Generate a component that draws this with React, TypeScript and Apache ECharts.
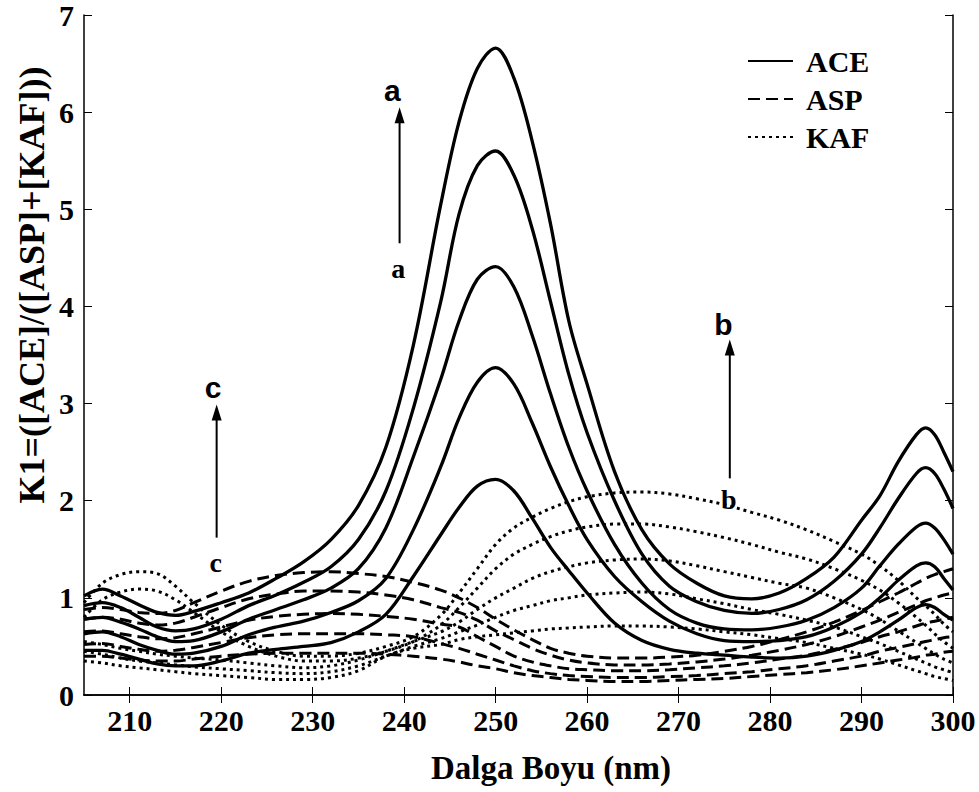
import React, { useEffect, useRef } from "react";
import * as echarts from "echarts";

// Wavelength grid (nm)
const wavelengths = [205, 207, 209, 211, 213, 215, 217, 220, 223, 226, 229, 232, 235, 238, 241, 244, 246, 248, 250, 252, 254, 256, 258, 260, 263, 266, 269, 272, 275, 278, 281, 284, 287, 290, 292, 294, 296, 297, 298, 299, 300];
const xTicks = [210, 220, 230, 240, 250, 260, 270, 280, 290, 300];

// ACE ratio spectra (solid)
const ace1 = [1.02, 1.09, 1.02, 0.93, 0.85, 0.82, 0.86, 0.95, 1.05, 1.2, 1.37, 1.6, 1.95, 2.55, 3.6, 5.05, 5.9, 6.45, 6.66, 6.35, 5.7, 4.85, 3.85, 3.2, 2.3, 1.7, 1.35, 1.15, 1.02, 0.99, 1.05, 1.2, 1.42, 1.8, 2.05, 2.4, 2.68, 2.75, 2.68, 2.5, 2.3];
const ace2 = [0.92, 0.95, 0.9, 0.8, 0.7, 0.66, 0.68, 0.78, 0.92, 1.03, 1.16, 1.32, 1.6, 2.1, 2.95, 4.05, 4.95, 5.45, 5.6, 5.35, 4.8, 4.05, 3.3, 2.7, 2.0, 1.45, 1.12, 0.96, 0.87, 0.84, 0.88, 0.98, 1.17, 1.45, 1.72, 2.02, 2.28, 2.34, 2.28, 2.12, 1.92];
const ace3 = [0.78, 0.8, 0.75, 0.68, 0.6, 0.55, 0.56, 0.65, 0.78, 0.88, 0.98, 1.1, 1.3, 1.72, 2.45, 3.25, 3.85, 4.28, 4.41, 4.2, 3.7, 3.1, 2.55, 2.1, 1.55, 1.15, 0.88, 0.74, 0.68, 0.67, 0.7, 0.77, 0.9, 1.1, 1.33, 1.55, 1.73, 1.77, 1.72, 1.6, 1.45];
const ace4 = [0.63, 0.65, 0.6, 0.52, 0.46, 0.42, 0.43, 0.5, 0.62, 0.7, 0.76, 0.85, 0.97, 1.2, 1.7, 2.35, 2.85, 3.22, 3.37, 3.2, 2.8, 2.35, 1.95, 1.6, 1.22, 0.96, 0.76, 0.63, 0.56, 0.55, 0.56, 0.6, 0.7, 0.85, 1.0, 1.18, 1.33, 1.36, 1.32, 1.2, 1.08];
const ace5 = [0.46, 0.46, 0.42, 0.37, 0.32, 0.3, 0.3, 0.35, 0.43, 0.47, 0.5, 0.54, 0.65, 0.83, 1.22, 1.65, 1.93, 2.15, 2.22, 2.1, 1.82, 1.52, 1.28, 1.05, 0.74, 0.56, 0.47, 0.43, 0.41, 0.39, 0.38, 0.4, 0.46, 0.55, 0.65, 0.77, 0.9, 0.93, 0.9, 0.83, 0.77];

// ASP ratio spectra (dashed)
const asp1 = [0.88, 0.9, 0.88, 0.85, 0.84, 0.87, 0.95, 1.07, 1.17, 1.23, 1.26, 1.27, 1.25, 1.22, 1.16, 1.08, 1.0, 0.9, 0.78, 0.67, 0.57, 0.48, 0.43, 0.4, 0.38, 0.38, 0.39, 0.41, 0.45, 0.5, 0.57, 0.65, 0.75, 0.87, 0.96, 1.05, 1.15, 1.2, 1.24, 1.27, 1.3];
const asp2 = [0.78, 0.8, 0.78, 0.74, 0.72, 0.74, 0.8, 0.9, 0.99, 1.04, 1.07, 1.07, 1.06, 1.03, 0.98, 0.9, 0.85, 0.77, 0.66, 0.57, 0.48, 0.41, 0.36, 0.33, 0.31, 0.31, 0.32, 0.34, 0.37, 0.41, 0.46, 0.52, 0.6, 0.7, 0.77, 0.85, 0.93, 0.97, 1.0, 1.03, 1.05];
const asp3 = [0.65, 0.66, 0.63, 0.6, 0.58, 0.59, 0.63, 0.7, 0.77, 0.81, 0.83, 0.84, 0.83, 0.81, 0.78, 0.73, 0.7, 0.6, 0.5, 0.4, 0.34, 0.3, 0.27, 0.26, 0.25, 0.25, 0.26, 0.28, 0.3, 0.33, 0.37, 0.41, 0.47, 0.54, 0.6, 0.65, 0.71, 0.74, 0.76, 0.78, 0.8];
const asp4 = [0.52, 0.53, 0.5, 0.47, 0.45, 0.46, 0.49, 0.54, 0.59, 0.62, 0.63, 0.63, 0.63, 0.62, 0.6, 0.53, 0.48, 0.42, 0.36, 0.3, 0.25, 0.22, 0.2, 0.19, 0.18, 0.18, 0.19, 0.2, 0.22, 0.24, 0.27, 0.3, 0.35, 0.4, 0.45, 0.49, 0.53, 0.55, 0.57, 0.59, 0.6];
const asp5 = [0.4, 0.4, 0.38, 0.36, 0.35, 0.35, 0.37, 0.4, 0.42, 0.43, 0.43, 0.43, 0.43, 0.42, 0.4, 0.37, 0.34, 0.3, 0.27, 0.23, 0.2, 0.18, 0.16, 0.15, 0.14, 0.14, 0.15, 0.16, 0.17, 0.19, 0.21, 0.23, 0.26, 0.3, 0.33, 0.36, 0.39, 0.41, 0.42, 0.44, 0.45];

// KAF ratio spectra (dotted)
const kaf1 = [0.95, 1.15, 1.24, 1.27, 1.25, 1.12, 0.95, 0.72, 0.55, 0.45, 0.4, 0.4, 0.43, 0.5, 0.6, 0.82, 1.05, 1.3, 1.55, 1.72, 1.83, 1.92, 1.99, 2.04, 2.08, 2.09, 2.07, 2.02, 1.96, 1.88, 1.8, 1.7, 1.58, 1.45, 1.33, 1.18, 1.0, 0.92, 0.83, 0.73, 0.65];
const kaf2 = [0.8, 0.98, 1.06, 1.09, 1.07, 0.98, 0.85, 0.65, 0.5, 0.4, 0.35, 0.35, 0.38, 0.45, 0.55, 0.72, 0.9, 1.1, 1.3, 1.45, 1.55, 1.63, 1.69, 1.73, 1.76, 1.76, 1.73, 1.68, 1.62, 1.55, 1.47, 1.4, 1.3, 1.18, 1.08, 0.95, 0.8, 0.72, 0.63, 0.55, 0.48];
const kaf3 = [0.55, 0.52, 0.48, 0.45, 0.42, 0.4, 0.38, 0.36, 0.33, 0.3, 0.28, 0.3, 0.36, 0.45, 0.55, 0.65, 0.75, 0.88, 1.0, 1.1, 1.2, 1.27, 1.32, 1.36, 1.39, 1.4, 1.38, 1.33, 1.27, 1.21, 1.15, 1.1, 1.0, 0.88, 0.78, 0.66, 0.54, 0.48, 0.42, 0.37, 0.33];
const kaf4 = [0.45, 0.42, 0.38, 0.35, 0.33, 0.31, 0.29, 0.27, 0.25, 0.23, 0.22, 0.24, 0.3, 0.4, 0.5, 0.58, 0.65, 0.72, 0.8, 0.87, 0.92, 0.97, 1.0, 1.03, 1.05, 1.06, 1.04, 0.99, 0.94, 0.88, 0.83, 0.77, 0.7, 0.6, 0.53, 0.45, 0.37, 0.33, 0.29, 0.26, 0.23];
const kaf5 = [0.35, 0.33, 0.3, 0.28, 0.26, 0.24, 0.22, 0.2, 0.18, 0.16, 0.16, 0.18, 0.25, 0.4, 0.48, 0.52, 0.57, 0.6, 0.62, 0.64, 0.66, 0.68, 0.69, 0.7, 0.71, 0.71, 0.7, 0.68, 0.65, 0.62, 0.58, 0.54, 0.48, 0.42, 0.37, 0.31, 0.25, 0.22, 0.19, 0.17, 0.15];

const aceSet = [ace1, ace2, ace3, ace4, ace5];
const aspSet = [asp1, asp2, asp3, asp4, asp5];
const kafSet = [kaf1, kaf2, kaf3, kaf4, kaf5];

// Annotations (data coordinates)
const arrowX = [239.5, 219.5, 275.6];
const arrowTail = [4.65, 1.62, 2.23];
const arrowHead = [6.05, 2.99, 3.66];
const headLabels = ["a", "c", "b"];
const headLabelX = [238.7, 219.1, 274.9];
const headLabelY = [6.22, 3.17, 3.81];
const tailLabels = ["a", "c", "b"];
const tailLabelX = [239.35, 219.4, 275.5];
const tailLabelY = [4.39, 1.36, 2.01];

const xTitle = "Dalga Boyu (nm)";
const yTitle = "K1=([ACE]/([ASP]+[KAF]))";

const SERIF = "'Liberation Serif', 'Times New Roman', serif";
const SANS = "'Liberation Sans', Arial, sans-serif";

function toPairs(vals: number[]) {
  return wavelengths.map((w, i) => [w, vals[i]]);
}

export default function App() {
  const ref = useRef<HTMLDivElement>(null);
  useEffect(() => {
    if (!ref.current) return;
    const chart = echarts.init(ref.current, undefined, { renderer: "svg" });

    const mk = (name: string, vals: number[], type: any, width: number) => ({
      type: "line",
      name,
      data: toPairs(vals),
      symbol: "none",
      showSymbol: false,
      smooth: 0.35,
      silent: true,
      lineStyle: { color: "#000", width, type, cap: "butt" },
      itemStyle: { color: "#000" },
    });

    const series: any[] = [];
    aceSet.forEach((v) => series.push(mk("ACE", v, "solid", 3.3)));
    aspSet.forEach((v) => series.push(mk("ASP", v, [12, 6], 3)));
    kafSet.forEach((v) => series.push(mk("KAF", v, [3, 4], 3)));

    const axisLineStyle = { color: "#000", width: 1.5 };

    chart.setOption({
      animation: false,
      backgroundColor: "#fff",
      grid: { left: 84, right: 26, top: 10, bottom: 97, containLabel: false },
      legend: {
        data: ["ACE", "ASP", "KAF"],
        orient: "vertical",
        left: 742,
        top: 41,
        itemWidth: 45,
        itemHeight: 14,
        itemGap: 8,
        selectedMode: false,
        itemStyle: { opacity: 0 },
        textStyle: {
          fontFamily: SERIF,
          fontWeight: "bold",
          fontSize: 30,
          color: "#000",
          padding: [0, 0, 0, 8],
        },
      },
      xAxis: [
        {
          type: "value",
          min: 205,
          max: 300,
          position: "bottom",
          axisLine: { show: true, lineStyle: axisLineStyle },
          axisTick: { show: true, inside: true, length: 8, customValues: xTicks, lineStyle: { color: "#000" } },
          axisLabel: {
            customValues: xTicks,
            fontFamily: SERIF,
            fontWeight: "bold",
            fontSize: 30,
            color: "#000",
            margin: 10,
          },
          splitLine: { show: false },
        },
        {
          type: "value",
          min: 205,
          max: 300,
          position: "top",
          axisLine: { show: true, lineStyle: axisLineStyle },
          axisTick: { show: true, inside: true, length: 8, customValues: xTicks, lineStyle: { color: "#000" } },
          axisLabel: { show: false },
          splitLine: { show: false },
        },
      ],
      yAxis: [
        {
          type: "value",
          min: 0,
          max: 7,
          interval: 1,
          position: "left",
          axisLine: { show: true, lineStyle: axisLineStyle },
          axisTick: { show: true, inside: true, length: 8, lineStyle: { color: "#000" } },
          axisLabel: {
            fontFamily: SERIF,
            fontWeight: "bold",
            fontSize: 30,
            color: "#000",
            margin: 10,
          },
          splitLine: { show: false },
        },
        {
          type: "value",
          min: 0,
          max: 7,
          interval: 1,
          position: "right",
          axisLine: { show: true, lineStyle: axisLineStyle },
          axisTick: { show: true, inside: true, length: 8, lineStyle: { color: "#000" } },
          axisLabel: { show: false },
          splitLine: { show: false },
        },
      ],
      series,
    });

    const px = (x: number, y: number) => chart.convertToPixel({ xAxisIndex: 0, yAxisIndex: 0 }, [x, y]) as number[];
    const graphics: any[] = [];
    arrowX.forEach((ax, i) => {
      const tail = px(ax, arrowTail[i]);
      const head = px(ax, arrowHead[i]);
      graphics.push({
        type: "line",
        shape: { x1: tail[0], y1: tail[1], x2: head[0], y2: head[1] + 12 },
        style: { stroke: "#000", lineWidth: 2 },
        silent: true,
      });
      graphics.push({
        type: "polygon",
        shape: { points: [[head[0], head[1]], [head[0] - 5, head[1] + 16], [head[0] + 5, head[1] + 16]] },
        style: { fill: "#000" },
        silent: true,
      });
      const hl = px(headLabelX[i], headLabelY[i]);
      graphics.push({
        type: "text",
        x: hl[0],
        y: hl[1],
        silent: true,
        style: { text: headLabels[i], fontFamily: SANS, fontWeight: "bold", fontSize: 30, fill: "#000", align: "center", verticalAlign: "middle" },
      });
      const tl = px(tailLabelX[i], tailLabelY[i]);
      graphics.push({
        type: "text",
        x: tl[0],
        y: tl[1],
        silent: true,
        style: { text: tailLabels[i], fontFamily: SERIF, fontWeight: "bold", fontSize: 28, fill: "#000", align: "center", verticalAlign: "middle" },
      });
    });
    // axis titles
    graphics.push({
      type: "text",
      x: 551,
      y: 768,
      silent: true,
      style: { text: xTitle, fontFamily: SERIF, fontWeight: "bold", fontSize: 33, fill: "#000", align: "center", verticalAlign: "middle" },
    });
    graphics.push({
      type: "text",
      x: 32,
      y: 285,
      rotation: Math.PI / 2,
      silent: true,
      style: { text: yTitle, fontFamily: SERIF, fontWeight: "bold", fontSize: 36, fill: "#000", align: "center", verticalAlign: "middle" },
    });
    chart.setOption({ graphic: graphics });

    return () => chart.dispose();
  }, []);

  return (
    <div
      ref={ref}
      style={{ position: "fixed", left: 0, top: 0, width: 979, height: 792, background: "#fff" }}
    />
  );
}
